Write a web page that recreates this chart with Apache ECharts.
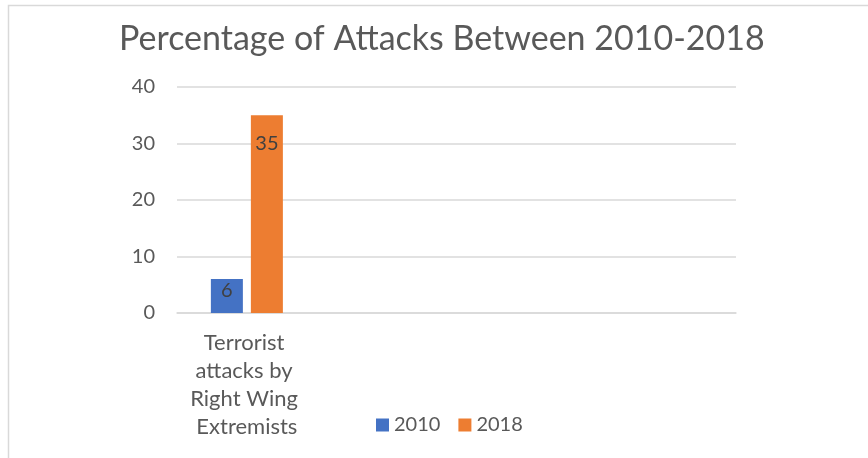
<!DOCTYPE html>
<html>
<head>
<meta charset="utf-8">
<script src="https://cdn.jsdelivr.net/npm/echarts@6/dist/echarts.min.js"></script>
<style>
html,body{margin:0;padding:0;background:#fff;}
#main{width:868px;height:458px;}
</style>
</head>
<body>
<div id="main"></div>
<script>
const titleText = 'Percentage of Attacks Between 2010-2018';
const categories = ['Terrorist attacks by Right Wing Extremists', '', '', ''];
const seriesNames = ['2010', '2018'];
const values2010 = [6, '-', '-', '-'];
const values2018 = [35, '-', '-', '-'];
const yTicks = { min: 0, max: 40, interval: 10 };

const chart = echarts.init(document.getElementById('main'), null, { renderer: 'canvas' });
const font = 'Lato, "Open Sans", sans-serif';
const textColor = '#595959';

chart.setOption({
  animation: false,
  backgroundColor: '#ffffff',
  graphic: [{
    type: 'rect',
    shape: { x: 8.5, y: 5.5, width: 900, height: 500 },
    style: { fill: 'none', stroke: '#d9d9d9', lineWidth: 1.5 },
    silent: true
  }],
  title: {
    text: titleText,
    left: 119,
    top: 22,
    padding: 0,
    textStyle: { fontFamily: font, fontSize: 34, fontWeight: 'normal', color: textColor }
  },
  legend: {
    data: seriesNames,
    left: 371,
    top: 410,
    itemWidth: 13,
    itemHeight: 13,
    itemGap: 18,
    icon: 'rect',
    textStyle: { fontFamily: font, fontSize: 20, color: textColor, padding: [0, 0, 0, 0] }
  },
  grid: { left: 177, right: 132, top: 87, bottom: 145, containLabel: false },
  xAxis: {
    type: 'category',
    data: categories,
    axisLine: { show: true, lineStyle: { color: '#d9d9d9', width: 1.5 } },
    axisTick: { show: false },
    axisLabel: {
      fontFamily: font, fontSize: 22, color: textColor, margin: 16,
      width: 125, overflow: 'break', lineHeight: 28, align: 'center', interval: 0
    }
  },
  yAxis: {
    type: 'value',
    min: yTicks.min, max: yTicks.max, interval: yTicks.interval,
    axisLine: { show: false },
    axisTick: { show: false },
    splitLine: { lineStyle: { color: '#d9d9d9', width: 1.5 } },
    axisLabel: { fontFamily: font, fontSize: 20, color: textColor, margin: 22 }
  },
  series: [
    {
      name: seriesNames[0], type: 'bar', data: values2010,
      barWidth: 32, barGap: '25%',
      itemStyle: { color: '#4472C4' },
      label: { show: true, position: 'insideTop', distance: 1, fontFamily: font, fontSize: 20, color: '#404040' }
    },
    {
      name: seriesNames[1], type: 'bar', data: values2018,
      barWidth: 32, barGap: '25%',
      itemStyle: { color: '#ED7D31' },
      label: { show: true, position: 'insideTop', distance: 18, fontFamily: font, fontSize: 20, color: '#404040' }
    }
  ]
});
</script>
</body>
</html>
